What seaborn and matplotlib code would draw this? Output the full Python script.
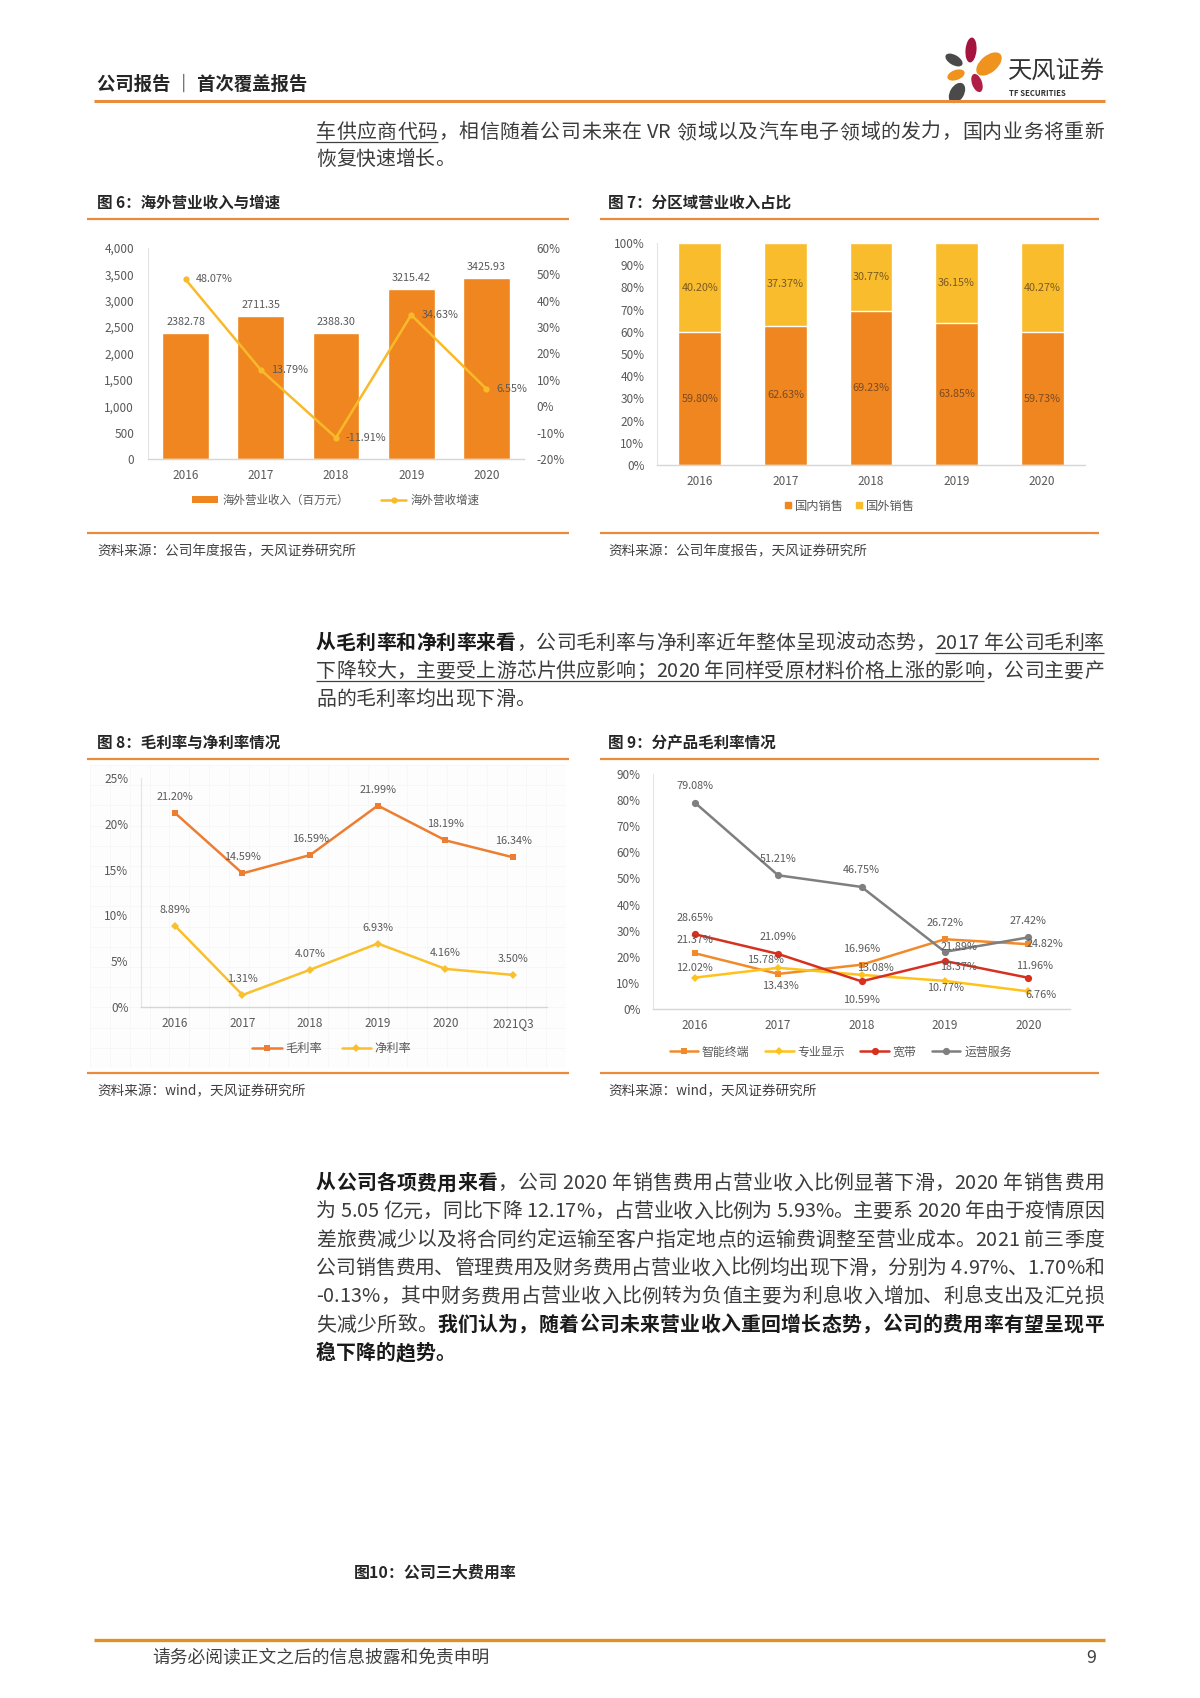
import matplotlib
matplotlib.use('Agg')
import matplotlib.pyplot as plt
import seaborn as sns
import numpy as np
import pandas as pd
from matplotlib.patches import Ellipse, Patch
from matplotlib.lines import Line2D
from matplotlib.font_manager import FontProperties

# ---------------- data ----------------
years5 = ['2016', '2017', '2018', '2019', '2020']
overseas_rev = [2382.78, 2711.35, 2388.30, 3215.42, 3425.93]
overseas_growth = [48.07, 13.79, -11.91, 34.63, 6.55]
rev_ticks = [0, 500, 1000, 1500, 2000, 2500, 3000, 3500, 4000]
growth_ticks = [-20, -10, 0, 10, 20, 30, 40, 50, 60]

domestic_share = [59.80, 62.63, 69.23, 63.85, 59.73]
foreign_share = [40.20, 37.37, 30.77, 36.15, 40.27]
share_ticks = [0, 10, 20, 30, 40, 50, 60, 70, 80, 90, 100]

years6 = ['2016', '2017', '2018', '2019', '2020', '2021Q3']
gross_margin = [21.20, 14.59, 16.59, 21.99, 18.19, 16.34]
net_margin = [8.89, 1.31, 4.07, 6.93, 4.16, 3.50]
margin_ticks = [0, 5, 10, 15, 20, 25]

product_names = ['智能终端', '专业显示', '宽带', '运营服务']
smart_terminal = [21.37, 13.43, 16.96, 26.72, 24.82]
pro_display = [12.02, 15.78, 13.08, 10.77, 6.76]
broadband = [28.65, 21.09, 10.59, 18.37, 11.96]
operation = [79.08, 51.21, 46.75, 21.89, 27.42]
product_ticks = [0, 10, 20, 30, 40, 50, 60, 70, 80, 90]

# ---------------- style ----------------
W, H = 1200, 1698
sns.set_style('white')
FAM = ['Noto Sans CJK SC', 'DejaVu Sans']
plt.rcParams['font.family'] = FAM
plt.rcParams['axes.unicode_minus'] = False

ORANGE = '#F0861F'
YELLOW = '#F9BC2C'
LINE_Y = '#F8BA2A'
GROSS_C = '#ED7D31'
NET_C = '#F9C02C'
C_SMART = '#F28A2A'
C_PRO = '#FFC21A'
C_BB = '#D6311F'
C_OP = '#7F7F7F'
TICK = '#595959'
LAB = '#595959'
RULE = '#E98B3A'
BODY = '#3C3C3C'
TITLE_C = '#262626'

fig = plt.figure(figsize=(12, 16.98), dpi=100)
renderer = fig.canvas.get_renderer()


def fx(x):
    return x / W


def fy(y):
    return 1 - y / H


def add_ax(x0, y0, x1, y1):
    return fig.add_axes([x0 / W, 1 - y1 / H, (x1 - x0) / W, (y1 - y0) / H])


def hline(x0, x1, y, color=RULE, lw=1.5):
    fig.add_artist(Line2D([fx(x0), fx(x1)], [fy(y), fy(y)], color=color, lw=lw,
                          solid_capstyle='butt'))


def ftext(x, y, s, size, bold=False, color=BODY, ha='left', va='center', **kw):
    fig.text(fx(x), fy(y), s, fontsize=size, fontweight='bold' if bold else 'normal',
             color=color, ha=ha, va=va, **kw)


_wcache = {}


def adv(ch, size, bold):
    key = (ch, size, bold)
    if key in _wcache:
        return _wcache[key]
    fp = FontProperties(family=FAM, size=size, weight='bold' if bold else 'normal')
    w1, _, _ = renderer.get_text_width_height_descent('国' + ch + '国', fp, ismath=False)
    w0, _, _ = renderer.get_text_width_height_descent('国国', fp, ismath=False)
    _wcache[key] = w1 - w0
    return w1 - w0


def is_ascii_word(c):
    return c.isascii() and (c.isalnum() or c in '.%-')


def para_line(x0, yc, runs, size, right=None, color=BODY):
    chars = [(ch, b, u) for text, b, u in runs for ch in text]
    widths = [adv(ch, size, b) for ch, b, u in chars]
    total = sum(widths)
    slots = []
    for i in range(len(chars) - 1):
        a, b2 = chars[i][0], chars[i + 1][0]
        slots.append(0 if (is_ascii_word(a) and is_ascii_word(b2)) else 1)
    nslot = max(sum(slots), 1)
    gap = (right - x0 - total) / nslot if right is not None else 0.0
    baseline = yc + 0.36 * size * 100 / 72
    x = x0
    ul_start = None
    ul_end = None
    for i, ((ch, b, u), w) in enumerate(zip(chars, widths)):
        if ch != ' ':
            fig.text(fx(x), fy(baseline), ch, fontsize=size,
                     fontweight='bold' if b else 'normal',
                     color='#1A1A1A' if b else color, ha='left', va='baseline')
        if u:
            if ul_start is None:
                ul_start = x
            ul_end = x + w
        elif ul_start is not None:
            hline(ul_start, ul_end, baseline + 4, color='#404040', lw=0.9)
            ul_start = None
        x += w
        if i < len(slots) and slots[i]:
            x += gap
    if ul_start is not None:
        hline(ul_start, ul_end, baseline + 4, color='#404040', lw=0.9)


# ---------------- header ----------------
ftext(97, 84, '公司报告 ｜ 首次覆盖报告', 13.2, bold=True, color=TITLE_C)
hline(94, 1105, 101, color=RULE, lw=2.2)

logo = add_ax(940, 34, 1006, 106)
logo.set_xlim(940, 1006)
logo.set_ylim(106, 34)
logo.axis('off')
petals = [
    ((954, 60), 19, 10, 30, '#4A4A4A'),
    ((971, 50), 25, 11, 95, '#A5143F'),
    ((989, 64), 30, 17, -40, '#F0921E'),
    ((956, 75), 18, 10, -20, '#F0921E'),
    ((977, 83), 19, 10, 70, '#B01D45'),
    ((957, 93), 22, 14, -60, '#4A4A4A'),
]
for c, w_, h_, ang, col in petals:
    logo.add_patch(Ellipse(c, w_, h_, angle=ang, color=col, lw=0))
ftext(1008, 71, '天风证券', 17.5, bold=False, color='#333333')
ftext(1009, 93, 'TF SECURITIES', 5.6, bold=True, color='#333333')

# ---------------- paragraph 1 ----------------
PS = 14.3
R = 1104
para_line(316, 131, [('车供应商代码', False, True),
                     ('，相信随着公司未来在 VR 领域以及汽车电子领域的发力，国内业务将重新', False, False)], PS, right=R)
para_line(316, 158, [('恢复快速增长。', False, False)], PS)

# ---------------- titles / rules row 1 ----------------
ftext(97, 203, '图 6：海外营业收入与增速', 11.2, bold=True, color=TITLE_C)
ftext(608, 203, '图 7：分区域营业收入占比', 11.2, bold=True, color=TITLE_C)
hline(87, 569, 219, lw=1.6)
hline(600, 1099, 219, lw=1.6)
hline(87, 569, 533, lw=1.6)
hline(600, 1099, 533, lw=1.6)
ftext(97, 551, '资料来源：公司年度报告，天风证券研究所', 9.8, color='#404040')
ftext(608, 551, '资料来源：公司年度报告，天风证券研究所', 9.8, color='#404040')


def style_ax(ax):
    for s in ['top', 'right']:
        ax.spines[s].set_visible(False)
    ax.spines['left'].set_color('#E4E4E4')
    ax.spines['left'].set_linewidth(0.8)
    ax.spines['bottom'].set_color('#D6D6D6')
    ax.spines['bottom'].set_linewidth(1.0)
    ax.tick_params(length=0, labelsize=8.5, labelcolor=TICK)
    ax.set_xlabel('')
    ax.set_ylabel('')
    ax.set_facecolor('none')


# ---------------- chart 6 ----------------
ax6 = add_ax(148, 248, 524, 459)
sns.barplot(x=years5, y=overseas_rev, color=ORANGE, saturation=1, width=0.62,
            errorbar=None, ax=ax6)
ax6.set_ylim(0, 4000)
ax6.set_yticks(rev_ticks)
ax6.set_yticklabels([f'{v:,}' for v in rev_ticks])
style_ax(ax6)
ax6.tick_params(axis='y', pad=10)
ax6.tick_params(axis='x', pad=7)
for i, v in enumerate(overseas_rev):
    ax6.annotate(f'{v:.2f}', (i, v), xytext=(0, 11), textcoords='offset pixels',
                 ha='center', va='center', fontsize=7.8, color=LAB)
ax6b = ax6.twinx()
sns.pointplot(x=years5, y=overseas_growth, color=LINE_Y, markers='o', linestyles='-',
              errorbar=None, ax=ax6b, linewidth=1.8, markersize=4.5, markeredgewidth=0)
ax6b.set_ylim(-20, 60)
ax6b.set_yticks(growth_ticks)
ax6b.set_yticklabels([f'{v}%' for v in growth_ticks])
for s in ax6b.spines.values():
    s.set_visible(False)
ax6b.tick_params(length=0, labelsize=8.5, labelcolor=TICK, pad=9)
ax6b.set_ylabel('')
ax6b.set_xlabel('')
ax6.set_xlim(-0.5, 4.5)
ax6b.set_xlim(-0.5, 4.5)
for i, v in enumerate(overseas_growth):
    ax6b.annotate(f'{v:.2f}%', (i, v), xytext=(10, 0), textcoords='offset pixels',
                  ha='left', va='center', fontsize=7.8, color=LAB)
h6 = [Patch(facecolor=ORANGE, edgecolor='none'),
      Line2D([], [], color=LINE_Y, lw=1.8, marker='o', markersize=4.5, markeredgewidth=0)]
ax6.legend(h6, ['海外营业收入（百万元）', '海外营收增速'], loc='center',
           bbox_to_anchor=(0.5, -0.195), ncol=2, frameon=False, fontsize=8.3,
           handlelength=2.2, handleheight=0.45, columnspacing=2.8, handletextpad=0.4,
           labelcolor=TICK)

# ---------------- chart 7 ----------------
ax7 = add_ax(657, 243, 1085, 465)
totals = [d + f for d, f in zip(domestic_share, foreign_share)]
sns.barplot(x=years5, y=totals, color=YELLOW, saturation=1, width=0.5, errorbar=None, ax=ax7)
sns.barplot(x=years5, y=domestic_share, color=ORANGE, saturation=1, width=0.5,
            errorbar=None, ax=ax7)
ax7.set_ylim(0, 100)
ax7.set_xlim(-0.5, 4.5)
ax7.set_yticks(share_ticks)
ax7.set_yticklabels([f'{v}%' for v in share_ticks])
style_ax(ax7)
ax7.tick_params(axis='y', pad=9)
ax7.tick_params(axis='x', pad=7)
for i, (d, f) in enumerate(zip(domestic_share, foreign_share)):
    ax7.text(i, d / 2, f'{d:.2f}%', ha='center', va='center', fontsize=7.8, color='#7A4A22')
    ax7.text(i, d + f / 2, f'{f:.2f}%', ha='center', va='center', fontsize=7.8, color='#7A5A22')
h7 = [Line2D([], [], color=ORANGE, marker='s', lw=0, markersize=4.5),
      Line2D([], [], color=YELLOW, marker='s', lw=0, markersize=4.5)]
ax7.legend(h7, ['国内销售', '国外销售'], loc='center', bbox_to_anchor=(0.45, -0.185),
           ncol=2, frameon=False, fontsize=8.8, handlelength=0.6, handletextpad=0.2,
           columnspacing=1.0, labelcolor=TICK)

# ---------------- paragraph 2 ----------------
para_line(316, 642, [('从毛利率和净利率来看', True, False),
                     ('，公司毛利率与净利率近年整体呈现波动态势，', False, False),
                     ('2017 年公司毛利率', False, True)], PS, right=R)
para_line(316, 670, [('下降较大，主要受上游芯片供应影响；2020 年同样受原材料价格上涨的影响', False, True),
                     ('，公司主要产', False, False)], PS, right=R)
para_line(316, 698, [('品的毛利率均出现下滑。', False, False)], PS)

# ---------------- titles / rules row 2 ----------------
ftext(97, 743, '图 8：毛利率与净利率情况', 11.2, bold=True, color=TITLE_C)
ftext(608, 743, '图 9：分产品毛利率情况', 11.2, bold=True, color=TITLE_C)
hline(87, 569, 759, lw=1.6)
hline(600, 1099, 759, lw=1.6)
hline(87, 569, 1073, lw=1.6)
hline(600, 1099, 1073, lw=1.6)
ftext(97, 1091, '资料来源：wind，天风证券研究所', 9.8, color='#404040')
ftext(608, 1091, '资料来源：wind，天风证券研究所', 9.8, color='#404040')

# ---------------- chart 8 ----------------
bg8 = add_ax(90, 765, 566, 1068)
bg8.set_facecolor('#FDFDFD')
bg8.set_xticks(np.linspace(0, 1, 25))
bg8.set_yticks(np.linspace(0, 1, 16))
bg8.grid(True, color='#F6F6F6', lw=0.6)
bg8.tick_params(length=0, labelbottom=False, labelleft=False)
for s in bg8.spines.values():
    s.set_visible(False)
bg8.set_xlim(0, 1)
bg8.set_ylim(0, 1)

ax8 = add_ax(141, 778, 547, 1007)
sns.pointplot(x=years6, y=gross_margin, color=GROSS_C, markers='s', linestyles='-',
              errorbar=None, ax=ax8, linewidth=1.8, markersize=5, markeredgewidth=0)
sns.pointplot(x=years6, y=net_margin, color=NET_C, markers='D', linestyles='-',
              errorbar=None, ax=ax8, linewidth=1.8, markersize=4.5, markeredgewidth=0)
ax8.set_ylim(0, 25)
ax8.set_xlim(-0.5, 5.5)
ax8.set_yticks(margin_ticks)
ax8.set_yticklabels([f'{v}%' for v in margin_ticks])
style_ax(ax8)
ax8.tick_params(axis='y', pad=9)
ax8.tick_params(axis='x', pad=7)
for series in (gross_margin, net_margin):
    for i, v in enumerate(series):
        ax8.annotate(f'{v:.2f}%', (i, v), xytext=(0, 16), textcoords='offset pixels',
                     ha='center', va='center', fontsize=7.8, color=LAB)
h8 = [Line2D([], [], color=GROSS_C, lw=1.8, marker='s', markersize=5, markeredgewidth=0),
      Line2D([], [], color=NET_C, lw=1.8, marker='D', markersize=4.5, markeredgewidth=0)]
ax8.legend(h8, ['毛利率', '净利率'], loc='center', bbox_to_anchor=(0.47, -0.183), ncol=2,
           frameon=False, fontsize=8.8, handlelength=2.4, handletextpad=0.3,
           columnspacing=1.6, labelcolor=TICK)

# ---------------- chart 9 ----------------
ax9 = add_ax(653, 774, 1070, 1009)
series9 = [(smart_terminal, C_SMART, 's', 5.0),
           (pro_display, C_PRO, 'D', 4.3),
           (broadband, C_BB, 'o', 5.2),
           (operation, C_OP, 'o', 5.2)]
for vals, col, mk, ms in series9:
    sns.pointplot(x=years5, y=vals, color=col, markers=mk, linestyles='-', errorbar=None,
                  ax=ax9, linewidth=1.8, markersize=ms, markeredgewidth=0)
ax9.set_ylim(0, 90)
ax9.set_xlim(-0.5, 4.5)
ax9.set_yticks(product_ticks)
ax9.set_yticklabels([f'{v}%' for v in product_ticks])
style_ax(ax9)
ax9.tick_params(axis='y', pad=9)
ax9.tick_params(axis='x', pad=7)
offsets9 = [
    [(0, 13), (2, -12), (0, 16), (0, 16), (17, 0)],
    [(0, 10), (-13, 8), (14, 7), (1, -7), (13, -4)],
    [(0, 16), (0, 17), (0, -19), (14, -6), (6, 12)],
    [(0, 17), (0, 16), (0, 17), (14, 5), (0, 16)],
]
for (vals, col, mk, ms), offs in zip(series9, offsets9):
    for i, v in enumerate(vals):
        ax9.annotate(f'{v:.2f}%', (i, v), xytext=offs[i], textcoords='offset pixels',
                     ha='center', va='center', fontsize=7.8, color=LAB)
h9 = [Line2D([], [], color=col, lw=1.8, marker=mk, markersize=ms, markeredgewidth=0)
      for vals, col, mk, ms in series9]
ax9.legend(h9, product_names, loc='center', bbox_to_anchor=(0.45, -0.183), ncol=4,
           frameon=False, fontsize=8.6, handlelength=2.4, handletextpad=0.3,
           columnspacing=1.3, labelcolor=TICK)

# ---------------- paragraph 3 ----------------
p3 = [
    [('从公司各项费用来看', True, False), ('，公司 2020 年销售费用占营业收入比例显著下滑，2020 年销售费用', False, False)],
    [('为 5.05 亿元，同比下降 12.17%，占营业收入比例为 5.93%。主要系 2020 年由于疫情原因', False, False)],
    [('差旅费减少以及将合同约定运输至客户指定地点的运输费调整至营业成本。2021 前三季度', False, False)],
    [('公司销售费用、管理费用及财务费用占营业收入比例均出现下滑，分别为 4.97%、1.70%和', False, False)],
    [('-0.13%，其中财务费用占营业收入比例转为负值主要为利息收入增加、利息支出及汇兑损', False, False)],
    [('失减少所致。', False, False), ('我们认为，随着公司未来营业收入重回增长态势，公司的费用率有望呈现平', True, False)],
    [('稳下降的趋势。', True, False)],
]
for k, runs in enumerate(p3):
    para_line(316, 1182 + 28.3 * k, runs, PS, right=R if k < len(p3) - 1 else None)

# ---------------- figure 10 title & footer ----------------
ftext(354, 1572, '图10：公司三大费用率', 11.5, bold=True, color=TITLE_C)
hline(94, 1105, 1640, color='#DE9222', lw=2.4)
ftext(152, 1658, '请务必阅读正文之后的信息披露和免责申明', 12.8, color='#404040')
ftext(1096, 1658, '9', 12.8, color='#404040', ha='right')

fig.savefig('out.png', dpi=100)
